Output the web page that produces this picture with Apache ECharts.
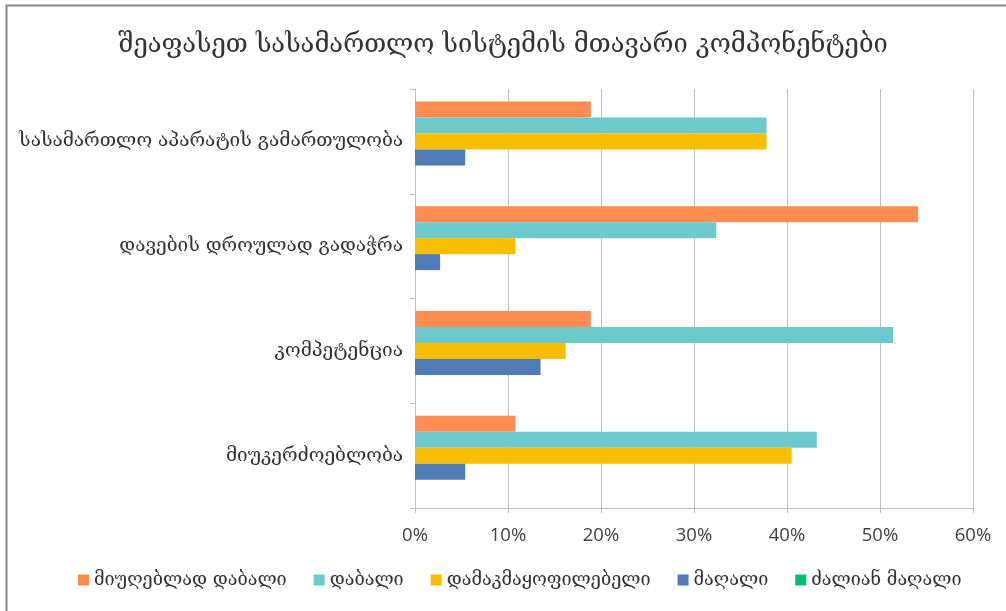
<!DOCTYPE html>
<html>
<head>
<meta charset="utf-8">
<script src="https://cdn.jsdelivr.net/npm/echarts@6/dist/echarts.min.js"></script>
<style>
  html, body { margin: 0; padding: 0; background: #fff; }
  #chart { width: 1006px; height: 611px; }
</style>
</head>
<body>
<div id="chart"></div>
<script>
// categories, bottom to top (as on the axis)
const categories = [
  'მიუკერძოებლობა',
  'კომპეტენცია',
  'დავების დროულად გადაჭრა',
  'სასამართლო აპარატის გამართულობა'
]
const seriesNames = ['მიუღებლად დაბალი', 'დაბალი', 'დამაკმაყოფილებელი', 'მაღალი', 'ძალიან მაღალი']
// percent values per series, same order as categories
const unacceptableLow = [10.8, 18.9, 54.1, 18.9]
const low = [43.2, 51.4, 32.4, 37.8]
const satisfactory = [40.5, 16.2, 10.8, 37.8]
const high = [5.4, 13.5, 2.7, 5.4]
const veryHigh = [0, 0, 0, 0]
const xTicks = [0, 10, 20, 30, 40, 50, 60]

const colors = ['#FF8C50', '#6CC9CC', '#F9BE00', '#4F7CB6', '#00BF6F']
const values = [unacceptableLow, low, satisfactory, high, veryHigh]

const geo = "'DejaVu Serif', 'DejaVu Sans', serif"
const chart = echarts.init(document.getElementById('chart'))

chart.setOption({
  animation: false,
  color: colors,
  title: {
    text: 'შეაფასეთ სასამართლო სისტემის მთავარი კომპონენტები',
    left: 'center',
    top: 27,
    textStyle: { fontFamily: geo, fontSize: 25.5, fontWeight: 'normal', color: '#333' }
  },
  graphic: [{
    type: 'rect',
    shape: { x: 6.5, y: 5.5, width: 1100, height: 700 },
    style: { fill: 'none', stroke: '#888', lineWidth: 2 },
    silent: true
  }],
  legend: {
    data: seriesNames,
    bottom: 17,
    left: 73,
    itemWidth: 11,
    itemHeight: 11,
    itemGap: 27,
    icon: 'rect',
    textStyle: { fontFamily: geo, fontSize: 18, color: '#333' }
  },
  grid: { left: 415, right: 33, top: 89, bottom: 103, containLabel: false },
  xAxis: {
    type: 'value',
    min: xTicks[0],
    max: xTicks[xTicks.length - 1],
    interval: 10,
    axisLine: { show: true, lineStyle: { color: '#bfbfbf' } },
    axisTick: { show: true, length: 5, lineStyle: { color: '#bfbfbf' } },
    splitLine: { lineStyle: { color: '#bfbfbf' } },
    axisLabel: {
      formatter: '{value}%',
      margin: 18,
      fontFamily: "'Open Sans', sans-serif",
      fontSize: 18.5,
      color: '#404040'
    }
  },
  yAxis: {
    type: 'category',
    data: categories,
    axisLine: { lineStyle: { color: '#bfbfbf' } },
    axisTick: { show: true, length: 5, lineStyle: { color: '#bfbfbf' } },
    axisLabel: { margin: 12, fontFamily: geo, fontSize: 19, color: '#333' }
  },
  series: seriesNames.map((name, i) => ({
    name: name,
    type: 'bar',
    data: values[i],
    barWidth: 16,
    barGap: '0%'
  }))
})
</script>
</body>
</html>
